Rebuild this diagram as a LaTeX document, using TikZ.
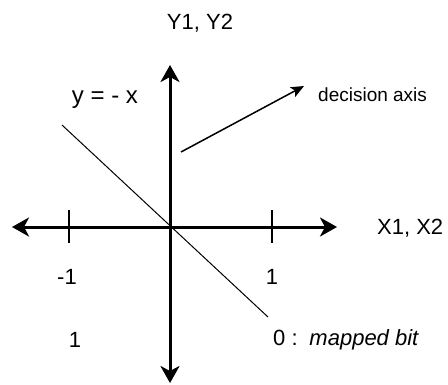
\documentclass[tikz,border=0pt]{standalone}
\usepackage{fontspec}
\setmainfont{Liberation Sans}
\usetikzlibrary{arrows.meta}
\begin{document}
\begin{tikzpicture}[x=1bp,y=-1bp,
  lbl/.style={inner sep=0pt, font=\fontsize{22bp}{24bp}\selectfont},
  axis/.style={line width=3bp, {Stealth[length=17bp,width=19bp,inset=5bp]}-{Stealth[length=17bp,width=19bp,inset=5bp]}},
  thinline/.style={line width=1bp},
  tickmark/.style={line width=1.5bp},
  decarrow/.style={line width=1.5bp, -{Stealth[length=13bp,width=11bp,inset=3bp]}}]
\useasboundingbox (0,0) rectangle (448,384);
% axes ends
\coordinate (O) at (170,227);
\coordinate (top) at (170,65);
\coordinate (bot) at (170,383);
\coordinate (left) at (12,227);
\coordinate (right) at (337,227);
\draw[axis] (left) -- (right);
\draw[axis] (bot) -- (top);
% ticks
\coordinate (t1a) at (69,210); \coordinate (t1b) at (69,243);
\coordinate (t2a) at (272,210); \coordinate (t2b) at (272,243);
\draw[tickmark] (t1a) -- (t1b);
\draw[tickmark] (t2a) -- (t2b);
% diagonal y = -x
\coordinate (d1) at (62,125);
\coordinate (d2) at (268,317);
\draw[thinline] (d1) -- (d2);
% decision axis arrow
\coordinate (da) at (181,152);
\coordinate (db) at (304,86);
\draw[decarrow] (da) -- (db);
% labels
\node[lbl] (ylab) at (200,23) {Y1, Y2};
\node[lbl, font=\fontsize{24bp}{26bp}\selectfont] (eq) at (105,100) {y = - x};
\node[lbl, anchor=west, font=\fontsize{19bp}{21bp}\selectfont] (dec) at (318,95) {decision axis};
\node[lbl, anchor=west] (xlab) at (377,228) {X1, X2};
\node[lbl] (m1) at (67,277) {-1};
\node[lbl] (p1) at (272,277) {1};
\node[lbl] (one) at (75,340) {1};
\node[lbl, anchor=west] (zero) at (273,340) {0 :\, \textit{mapped bit}};
\end{tikzpicture}
\end{document}
